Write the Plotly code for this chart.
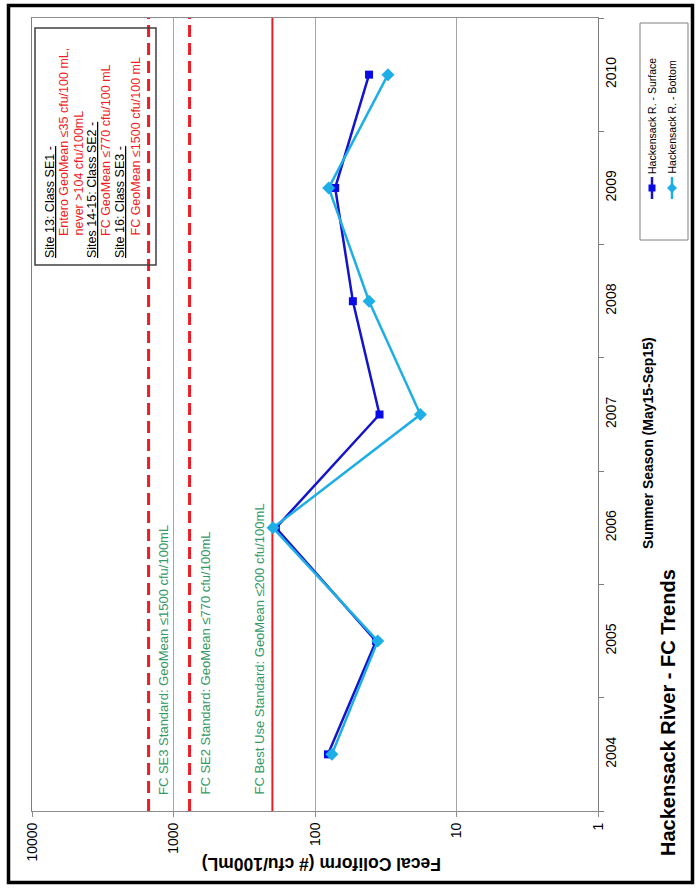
import plotly.graph_objects as go

# ---------------- data ----------------
years = [2004, 2005, 2006, 2007, 2008, 2009, 2010]
year_labels = ["2004", "2005", "2006", "2007", "2008", "2009", "2010"]
surface = [81, 37, 189, 35, 54, 72, 41.5]
bottom = [76, 36, 198, 18, 41.5, 80, 30.5]

std_values = [1500, 770, 200]
std_dash = ["12px,6px", "12px,6px", "solid"]
std_labels = [
    "FC SE3 Standard: GeoMean \u22641500 cfu/100mL",
    "FC SE2 Standard: GeoMean \u2264770 cfu/100mL",
    "FC Best Use Standard: GeoMean \u2264200 cfu/100mL",
]

x_tick_vals = [1, 10, 100, 1000, 10000]
x_tick_text = ["1", "10", "100", "1000", "10000"]

note_lines = [
    ("<u>Site 13: Class SE1 -</u>", "black", False),
    ("Entero GeoMean \u226435 cfu/100 mL,", "#EE1C25", True),
    ("never >104 cfu/100mL", "#EE1C25", True),
    ("<u>Sites 14-15: Class SE2 -</u>", "black", False),
    ("FC GeoMean \u2264770 cfu/100 mL", "#EE1C25", True),
    ("<u>Site 16: Class SE3 -</u>", "black", False),
    ("FC GeoMean \u22641500 cfu/100 mL", "#EE1C25", True),
]

series_names = ["Hackensack R. - Surface", "Hackensack R. - Bottom"]
series_colors = ["#1414CC", "#1EAEE6"]

# ---------------- layout helpers ----------------
W, H = 699, 888
L, R, T, B = 32, 101, 18, 77
PW, PH = W - L - R, H - T - B
FONT = "Liberation Sans, Arial, sans-serif"


def px(x):
    return (x - L) / PW


def py(y):
    return (H - B - y) / PH


fig = go.Figure()

# standard lines (full height of the year axis)
for v, d in zip(std_values, std_dash):
    fig.add_trace(go.Scatter(
        x=[v, v], y=[years[0] - 0.5, years[-1] + 0.5], mode="lines",
        line=dict(color="#EE1C25", width=3 if d != "solid" else 2, dash=d),
        hoverinfo="skip", showlegend=False))

# data series
fig.add_trace(go.Scatter(
    x=surface, y=years, mode="lines+markers", name=series_names[0],
    line=dict(color=series_colors[0], width=2.5),
    marker=dict(symbol="square", size=8, color="#0A0AE6")))
fig.add_trace(go.Scatter(
    x=bottom, y=years, mode="lines+markers", name=series_names[1],
    line=dict(color=series_colors[1], width=2.5),
    marker=dict(symbol="diamond", size=10, color=series_colors[1])))

fig.update_layout(
    width=W, height=H, margin=dict(l=L, r=R, t=T, b=B, pad=0),
    paper_bgcolor="white", plot_bgcolor="white", showlegend=False,
    font=dict(family=FONT, color="black"),
    xaxis=dict(
        type="log", range=[4, 0], tickmode="array", tickvals=x_tick_vals,
        ticktext=x_tick_text, tickangle=-90, tickfont=dict(size=14),
        showgrid=True, gridcolor="#A6A6A6", gridwidth=1,
        showline=True, linecolor="#8C8C8C", linewidth=1, mirror=True,
        ticks="outside", ticklen=5, tickcolor="#8C8C8C", zeroline=False),
    yaxis=dict(
        range=[years[0] - 0.5, years[-1] + 0.5], side="right",
        tickmode="array", tickvals=years, ticktext=year_labels,
        tickangle=-90, tickfont=dict(size=14), ticks="", ticklen=0,
        showgrid=False, zeroline=False,
        showline=True, linecolor="#7F7F7F", linewidth=1, mirror=True,
        minor=dict(tickmode="array",
                   tickvals=[y - 0.5 for y in years] + [years[-1] + 0.5],
                   ticks="outside", ticklen=5, tickcolor="#7F7F7F",
                   showgrid=False)),
)

ann = []
# axis titles and chart title
ann.append(dict(text="<b>Fecal Coliform (# cfu/100mL)</b>", x=px(322), y=py(864),
                xref="paper", yref="paper", xanchor="center", yanchor="middle",
                textangle=180, showarrow=False, font=dict(size=17.5)))
ann.append(dict(text="<b>Summer Season (May15-Sep15)</b>", x=px(648), y=py(443),
                xref="paper", yref="paper", xanchor="center", yanchor="middle",
                textangle=-90, showarrow=False, font=dict(size=14)))
ann.append(dict(text="<b>Hackensack River - FC Trends</b>", x=px(668), y=py(713),
                xref="paper", yref="paper", xanchor="center", yanchor="middle",
                textangle=-90, showarrow=False, font=dict(size=20)))

# standard labels
for lab, xc in zip(std_labels, [163, 205, 259]):
    ann.append(dict(text=lab, x=px(xc), y=py(797), xref="paper", yref="paper",
                    xanchor="center", yanchor="bottom", textangle=-90,
                    showarrow=False, font=dict(size=13, color="#339966")))

# note box text
for (txt, col, ind), xc in zip(note_lines, [50, 64, 78, 92, 106, 120, 135]):
    ann.append(dict(text=txt, x=px(xc), y=py(238 if ind else 260),
                    xref="paper", yref="paper", xanchor="center",
                    yanchor="bottom", textangle=-90, showarrow=False,
                    font=dict(size=12.5, color=col)))

# legend text
for name, xc in zip(series_names, [652, 672]):
    ann.append(dict(text=name, x=px(xc), y=py(176), xref="paper", yref="paper",
                    xanchor="center", yanchor="bottom", textangle=-90,
                    showarrow=False, font=dict(size=10.5)))

shapes = []
# outer frame
shapes.append(dict(type="rect", xref="paper", yref="paper",
                   x0=px(8.5), x1=px(692.5), y0=py(882.5), y1=py(5.5),
                   line=dict(color="black", width=3.5)))
# note box
shapes.append(dict(type="rect", xref="paper", yref="paper",
                   x0=px(35), x1=px(156), y0=py(265), y1=py(28),
                   line=dict(color="#404040", width=1.5)))
# legend box
shapes.append(dict(type="rect", xref="paper", yref="paper",
                   x0=px(640), x1=px(688), y0=py(240), y1=py(23),
                   line=dict(color="#808080", width=1)))
# legend glyphs
for xc, col in zip([652, 672], series_colors):
    shapes.append(dict(type="line", xref="paper", yref="paper",
                       x0=px(xc), x1=px(xc), y0=py(199), y1=py(177),
                       line=dict(color=col, width=2.5)))
shapes.append(dict(type="rect", xref="paper", yref="paper",
                   x0=px(648.5), x1=px(655.5), y0=py(191.5), y1=py(184.5),
                   fillcolor="#0A0AE6", line=dict(width=0)))
shapes.append(dict(type="path", xref="paper", yref="paper",
                   path=f"M {px(672)} {py(183)} L {px(677)} {py(188)} L {px(672)} {py(193)} L {px(667)} {py(188)} Z",
                   fillcolor=series_colors[1], line=dict(width=0)))

fig.update_layout(annotations=ann, shapes=shapes)
fig.write_html("out.html", config={"displayModeBar": False},
               post_script="document.body.style.margin='0';document.body.style.overflow='hidden';")
